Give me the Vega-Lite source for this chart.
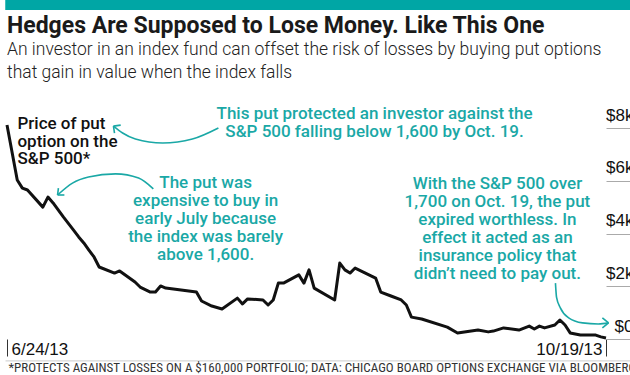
{
  "$schema": "https://vega.github.io/schema/vega-lite/v6.json",
  "padding": 0,
  "background": "white",
  "config": {"view": {"stroke": null}, "font": "Roboto"},
  "width": 599,
  "height": 211,
  "title": {
    "text": "Hedges Are Supposed to Lose Money. Like This One",
    "subtitle": ["An investor in an index fund can offset the risk of losses by buying put options", "that gain in value when the index falls"],
    "anchor": "start",
    "frame": "group",
    "font": "Roboto",
    "fontSize": 23,
    "fontWeight": 700,
    "color": "#1a1a1a",
    "subtitleFont": "Roboto",
    "subtitleFontSize": 17.5,
    "subtitleFontWeight": 300,
    "subtitleColor": "#222222",
    "subtitleLineHeight": 23,
    "subtitlePadding": 3,
    "offset": -81
  },
  "datasets": {
    "price": [
      {"date": "2013-06-24T00:00", "value": 8110},
      {"date": "2013-06-26T00:00", "value": 6030},
      {"date": "2013-06-27T00:00", "value": 5720},
      {"date": "2013-06-28T00:00", "value": 5650},
      {"date": "2013-07-01T00:00", "value": 5000},
      {"date": "2013-07-02T00:00", "value": 5380},
      {"date": "2013-07-03T00:00", "value": 5160},
      {"date": "2013-07-05T00:00", "value": 4630},
      {"date": "2013-07-07T00:00", "value": 4130},
      {"date": "2013-07-08T00:00", "value": 3870},
      {"date": "2013-07-09T00:00", "value": 3640},
      {"date": "2013-07-10T00:00", "value": 3370},
      {"date": "2013-07-11T00:00", "value": 3110},
      {"date": "2013-07-12T00:00", "value": 2730},
      {"date": "2013-07-15T00:00", "value": 2500},
      {"date": "2013-07-16T00:00", "value": 2580},
      {"date": "2013-07-19T00:00", "value": 2160},
      {"date": "2013-07-20T00:00", "value": 1970},
      {"date": "2013-07-22T00:00", "value": 1780},
      {"date": "2013-07-23T00:00", "value": 1780},
      {"date": "2013-07-24T00:00", "value": 2010},
      {"date": "2013-07-25T00:00", "value": 1930},
      {"date": "2013-07-28T00:00", "value": 1860},
      {"date": "2013-07-31T00:00", "value": 1780},
      {"date": "2013-08-01T00:00", "value": 1440},
      {"date": "2013-08-03T00:00", "value": 1250},
      {"date": "2013-08-05T00:00", "value": 1140},
      {"date": "2013-08-08T00:00", "value": 1550},
      {"date": "2013-08-09T00:00", "value": 1330},
      {"date": "2013-08-10T00:00", "value": 1520},
      {"date": "2013-08-13T00:00", "value": 1480},
      {"date": "2013-08-14T00:00", "value": 1290},
      {"date": "2013-08-15T00:00", "value": 1480},
      {"date": "2013-08-16T00:00", "value": 2120},
      {"date": "2013-08-17T00:00", "value": 2120},
      {"date": "2013-08-20T00:00", "value": 2430},
      {"date": "2013-08-21T00:00", "value": 2120},
      {"date": "2013-08-22T00:00", "value": 2620},
      {"date": "2013-08-23T00:00", "value": 1930},
      {"date": "2013-08-27T00:00", "value": 1480},
      {"date": "2013-08-28T00:00", "value": 2880},
      {"date": "2013-08-29T00:00", "value": 2620},
      {"date": "2013-08-30T00:00", "value": 2500},
      {"date": "2013-08-31T00:00", "value": 2690},
      {"date": "2013-09-04T00:00", "value": 2310},
      {"date": "2013-09-05T00:00", "value": 1780},
      {"date": "2013-09-07T00:00", "value": 1630},
      {"date": "2013-09-09T00:00", "value": 1480},
      {"date": "2013-09-10T00:00", "value": 1290},
      {"date": "2013-09-11T00:00", "value": 830},
      {"date": "2013-09-13T00:00", "value": 760},
      {"date": "2013-09-18T00:00", "value": 450},
      {"date": "2013-09-20T00:00", "value": 230},
      {"date": "2013-09-24T00:00", "value": 340},
      {"date": "2013-09-26T00:00", "value": 270},
      {"date": "2013-09-27T00:00", "value": 300},
      {"date": "2013-09-29T00:00", "value": 420},
      {"date": "2013-10-02T00:00", "value": 340},
      {"date": "2013-10-04T00:00", "value": 490},
      {"date": "2013-10-05T00:00", "value": 380},
      {"date": "2013-10-06T00:00", "value": 490},
      {"date": "2013-10-07T00:00", "value": 420},
      {"date": "2013-10-09T00:00", "value": 530},
      {"date": "2013-10-10T00:00", "value": 720},
      {"date": "2013-10-11T00:00", "value": 530},
      {"date": "2013-10-12T00:00", "value": 230},
      {"date": "2013-10-14T00:00", "value": 150},
      {"date": "2013-10-17T00:00", "value": 150},
      {"date": "2013-10-18T00:00", "value": 80},
      {"date": "2013-10-19T00:00", "value": 40}
    ],
    "arrows": [
      {"seg": "a1", "date": "2013-08-04T07:00", "value": 8000},
      {"seg": "a1", "date": "2013-07-30T05:00", "value": 7580},
      {"seg": "a1", "date": "2013-07-24T10:00", "value": 7430},
      {"seg": "a1", "date": "2013-07-19T02:00", "value": 7580},
      {"seg": "a1", "date": "2013-07-16T14:00", "value": 7810},
      {"seg": "a1", "date": "2013-07-14T19:00", "value": 8070},
      {"seg": "a1h1", "date": "2013-07-14T19:00", "value": 8070},
      {"seg": "a1h1", "date": "2013-07-16T05:00", "value": 8110},
      {"seg": "a1h2", "date": "2013-07-14T19:00", "value": 8070},
      {"seg": "a1h2", "date": "2013-07-15T00:00", "value": 7810},
      {"seg": "a2", "date": "2013-07-22T14:00", "value": 5690},
      {"seg": "a2", "date": "2013-07-19T17:00", "value": 6100},
      {"seg": "a2", "date": "2013-07-15T05:00", "value": 6260},
      {"seg": "a2", "date": "2013-07-09T22:00", "value": 6140},
      {"seg": "a2", "date": "2013-07-06T19:00", "value": 5910},
      {"seg": "a2", "date": "2013-07-03T21:00", "value": 5460},
      {"seg": "a2h1", "date": "2013-07-03T21:00", "value": 5460},
      {"seg": "a2h1", "date": "2013-07-05T05:00", "value": 5460},
      {"seg": "a2h2", "date": "2013-07-03T21:00", "value": 5460},
      {"seg": "a2h2", "date": "2013-07-04T01:00", "value": 5720},
      {"seg": "a3", "date": "2013-10-09T03:00", "value": 2120},
      {"seg": "a3", "date": "2013-10-09T08:00", "value": 1590},
      {"seg": "a3", "date": "2013-10-10T02:00", "value": 1180},
      {"seg": "a3", "date": "2013-10-11T17:00", "value": 800},
      {"seg": "a3", "date": "2013-10-14T10:00", "value": 610},
      {"seg": "a3", "date": "2013-10-17T12:00", "value": 570},
      {"seg": "a3", "date": "2013-10-19T12:00", "value": 610},
      {"seg": "a3h1", "date": "2013-10-19T12:00", "value": 610},
      {"seg": "a3h1", "date": "2013-10-18T07:00", "value": 800},
      {"seg": "a3h2", "date": "2013-10-19T12:00", "value": 610},
      {"seg": "a3h2", "date": "2013-10-18T07:00", "value": 420}
    ],
    "notes": [
      {"date": "2013-09-03T19:00", "value": 8530, "text": "This put protected an investor against the\nS&P 500 falling below 1,600 by Oct. 19."},
      {"date": "2013-08-01T19:00", "value": 5910, "text": "The put was\nexpensive to buy in\nearly July because\nthe index was barely\nabove 1,600."},
      {"date": "2013-09-27T19:00", "value": 5880, "text": "With the S&P 500 over\n1,700 on Oct. 19, the put\nexpired worthless. In\neffect it acted as an\ninsurance policy that\ndidn’t need to pay out."}
    ],
    "label": [
      {"date": "2013-06-26T01:00", "value": 8150, "text": "Price of put\noption on the\nS&P 500*"}
    ],
    "rule": [
      {"date": "2013-06-23T17:00", "date2": "2013-10-24T18:00", "value": -830}
    ],
    "band": [
      {"date": "2013-06-23T17:00", "date2": "2013-10-24T18:00", "value": 12850, "value2": 12470}
    ],
    "bandline": [
      {"date": "2013-06-23T17:00", "date2": "2013-10-24T18:00", "value": 12660}
    ],
    "footer": [
      {"date": "2013-06-24T07:00", "value": -1100, "text": "*PROTECTS AGAINST LOSSES ON A $160,000 PORTFOLIO; DATA: CHICAGO BOARD OPTIONS EXCHANGE VIA BLOOMBERG"}
    ]
  },
  "encoding": {
    "x": {
      "field": "date",
      "type": "temporal",
      "scale": {"domain": [{"year": 2013, "month": 6, "date": 24}, {"year": 2013, "month": 10, "date": 19}], "nice": false},
      "axis": {
        "title": null,
        "values": [{"year": 2013, "month": 6, "date": 24}, {"year": 2013, "month": 10, "date": 19}],
        "format": "%-m/%-d/%y",
        "domain": false,
        "grid": false,
        "tickSize": 17,
        "tickColor": "#333333",
        "tickWidth": 1,
        "labelFlush": true,
        "labelFlushOffset": -4,
        "labelFont": "Liberation Sans",
        "labelFontSize": 17,
        "labelColor": "#111111",
        "labelBaseline": "top",
        "labelPadding": -15
      }
    },
    "y": {
      "field": "value",
      "type": "quantitative",
      "scale": {"domain": [0, 8000], "nice": false},
      "axis": {
        "orient": "right",
        "title": null,
        "values": [0, 2000, 4000, 6000, 8000],
        "domain": false,
        "grid": false,
        "tickSize": 30,
        "tickColor": "#aaaaaa",
        "tickWidth": 1,
        "labelAlign": "right",
        "labelPadding": -3,
        "labelBaseline": "alphabetic",
        "labelOffset": -8,
        "labelFont": "Liberation Sans",
        "labelFontSize": 17,
        "labelColor": "#111111",
        "labelExpr": "datum.value == 0 ? '$0' : '$' + (datum.value / 1000) + 'k'"
      }
    }
  },
  "layer": [
    {
      "data": {"name": "band"},
      "mark": {"type": "rect", "opacity": 1},
      "encoding": {"x2": {"field": "date2"}, "y2": {"field": "value2"}, "color": {"value": "#00a6a5"}}
    },
    {
      "data": {"name": "bandline"},
      "mark": {"type": "rule", "strokeWidth": 10, "strokeCap": "butt", "opacity": 1},
      "encoding": {"x2": {"field": "date2"}, "color": {"value": "#00a6a5"}}
    },
    {
      "data": {"name": "rule"},
      "mark": {"type": "rule", "color": "#cccccc", "strokeWidth": 1},
      "encoding": {"x2": {"field": "date2"}}
    },
    {
      "data": {"name": "arrows"},
      "mark": {"type": "line", "color": "#1aa8a6", "strokeWidth": 1.6, "interpolate": "monotone"},
      "encoding": {"detail": {"field": "seg"}}
    },
    {
      "data": {"name": "price"},
      "mark": {"type": "line", "color": "#111111", "strokeWidth": 3, "strokeJoin": "round"}
    },
    {
      "data": {"name": "notes"},
      "mark": {"type": "text", "align": "center", "baseline": "middle", "lineBreak": "\n", "font": "Roboto", "fontSize": 17, "fontWeight": 500, "lineHeight": 18, "color": "#1aa8a6"},
      "encoding": {"text": {"field": "text"}}
    },
    {
      "data": {"name": "label"},
      "mark": {"type": "text", "align": "left", "baseline": "middle", "lineBreak": "\n", "font": "Roboto", "fontSize": 17, "fontWeight": 500, "lineHeight": 17.5, "color": "#111111"},
      "encoding": {"text": {"field": "text"}}
    },
    {
      "data": {"name": "footer"},
      "mark": {"type": "text", "align": "left", "baseline": "middle", "font": "Liberation Sans Narrow, Roboto Condensed, DejaVu Sans Condensed, sans-serif", "fontSize": 13, "color": "#333333"},
      "encoding": {"text": {"field": "text"}}
    }
  ]
}
